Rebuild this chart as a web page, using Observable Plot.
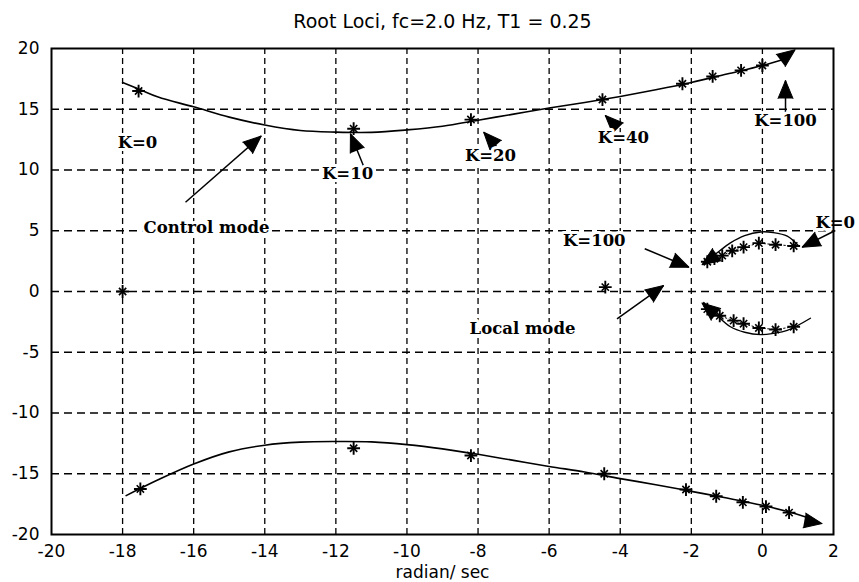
<!DOCTYPE html>
<html>
<head>
<meta charset="utf-8">
<script src="https://cdn.jsdelivr.net/npm/d3@7"></script>
<script src="https://cdn.jsdelivr.net/npm/@observablehq/plot@0.6"></script>
<style>
  body { margin: 0; background: #fff; }
  #chart svg { display: block; }
</style>
</head>
<body>
<div id="chart"></div>
<script>
// ---- tick values ----
const xTicks = [-20, -18, -16, -14, -12, -10, -8, -6, -4, -2, 0, 2];
const yTicks = [-20, -15, -10, -5, 0, 5, 10, 15, 20];

// ---- control mode loci (upper / lower), solid lines ----
const controlUpperLine = [[-18.0,17.2],[-17.5,16.6],[-17.0,16.0],[-16.0,15.2],[-15.0,14.35],[-14.0,13.7],[-13.0,13.25],[-12.0,13.12],[-11.0,13.1],[-10.0,13.3],[-9.0,13.6],[-8.0,14.1],[-7.0,14.6],[-6.0,15.1],[-5.0,15.55],[-4.0,16.05],[-3.0,16.6],[-2.0,17.2],[-1.0,17.9],[0.0,18.6],[0.7,19.2]];
const controlUpperStars = [[-17.55,16.5],[-11.5,13.4],[-8.2,14.15],[-4.5,15.8],[-2.25,17.1],[-1.4,17.7],[-0.6,18.2],[0.0,18.6]];
const controlLowerLine = [[-17.9,-16.8],[-17.0,-15.5],[-16.0,-14.2],[-15.0,-13.2],[-14.0,-12.65],[-13.0,-12.4],[-12.0,-12.35],[-11.0,-12.38],[-10.0,-12.6],[-9.0,-12.95],[-8.0,-13.4],[-7.0,-13.9],[-6.0,-14.4],[-5.0,-14.85],[-4.0,-15.4],[-3.0,-15.9],[-2.0,-16.45],[-1.0,-17.0],[0.0,-17.6],[1.0,-18.35],[1.4,-18.75]];
const controlLowerStars = [[-17.5,-16.25],[-11.5,-12.9],[-8.2,-13.5],[-4.45,-15.0],[-2.15,-16.3],[-1.3,-16.85],[-0.55,-17.35],[0.1,-17.7],[0.75,-18.2]];

// ---- isolated roots ----
const singleStars = [[-18.0,0.0],[-4.42,0.36]];

// ---- local mode loci ----
const localUpperLine = [[-1.65,2.3],[-1.2,3.35],[-0.9,4.0],[-0.5,4.6],[-0.05,4.9],[0.3,4.85],[0.7,4.55],[1.0,3.8]];
const localUpperStars = [[-1.55,2.45],[-1.35,2.7],[-1.13,2.95],[-0.85,3.35],[-0.53,3.65],[-0.1,3.98],[0.37,3.85],[0.88,3.75]];
const localLowerLine = [[-1.65,-0.9],[-1.3,-1.9],[-0.9,-2.9],[-0.5,-3.35],[-0.05,-3.55],[0.3,-3.45],[0.7,-3.2],[1.35,-2.2]];
const localLowerStars = [[-1.55,-1.45],[-1.2,-2.0],[-0.81,-2.4],[-0.53,-2.65],[-0.1,-3.0],[0.37,-3.13],[0.88,-2.9]];

// ---- annotation labels ----
const labelText = ["K=0", "Control mode", "K=10", "K=20", "K=40", "K=100", "K=100", "Local mode", "K=0"];
const labelX    = [-17.58, -15.64, -11.67, -7.65, -3.91, 0.65, -4.73, -6.75, 2.05];
const labelY    = [12.26, 5.27, 9.71, 11.19, 12.67, 14.07, 4.2, -3.05, 5.68];

// ---- annotation arrows (tail -> tip) ----
const arrowTailX = [-16.23, -11.17, -7.46, -4.09, 0.65, -3.31, -4.09, 2.05];
const arrowTailY = [7.35, 9.96, 11.88, 13.52, 14.76, 3.52, -2.25, 5.02];
const arrowTipX  = [-14.1, -11.59, -7.84, -4.42, 0.65, -2.07, -2.78, 1.12];
const arrowTipY  = [12.8, 12.98, 13.11, 14.49, 17.37, 2.0, 0.49, 3.65];

// ---- arrow heads drawn at loci ends (tip and direction taken from the locus) ----
const endHeadX   = [0.92, 1.68, -1.7, -1.7];
const endHeadY   = [19.9, -19.1, 2.2, -0.95];
const endFromX   = [0.6, 1.0, -1.3, -1.3];
const endFromY   = [19.2, -18.75, 3.0, -1.9];

const labels = labelText.map((t, i) => ({text: t, x: labelX[i], y: labelY[i]}));
const arrows = arrowTailX.map((x1, i) => ({x1, y1: arrowTailY[i], x2: arrowTipX[i], y2: arrowTipY[i]}));
const heads0 = arrows.map(a => ({fx: a.x1, fy: a.y1, x: a.x2, y: a.y2}))
  .concat(endHeadX.map((x, i) => ({fx: endFromX[i], fy: endFromY[i], x, y: endHeadY[i]})));

const P = d => d[0], Q = d => d[1];

function build(heads) {
  return Plot.plot({
    width: 859,
    height: 582,
    marginLeft: 51,
    marginRight: 26,
    marginTop: 48,
    marginBottom: 48,
    x: {domain: [-20, 2]},
    y: {domain: [-20, 20]},
    style: {fontFamily: "DejaVu Sans", background: "white", color: "black", overflow: "visible"},
    marks: [
      Plot.gridX(xTicks.filter(d => d > -20 && d < 2), {stroke: "black", strokeOpacity: 1, strokeWidth: 1.3, strokeDasharray: "6,4"}),
      Plot.gridY(yTicks.filter(d => d > -20 && d < 20), {stroke: "black", strokeOpacity: 1, strokeWidth: 1.3, strokeDasharray: "8,5"}),
      Plot.axisX(xTicks, {tickSize: 0, tickPadding: 10, fontSize: 17, tickFormat: d => String(d), label: null}),
      Plot.axisY(yTicks, {tickSize: 0, tickPadding: 12, fontSize: 17, tickFormat: d => String(d), label: null}),
      // loci
      Plot.line(controlUpperLine, {x: P, y: Q, curve: "catmull-rom", stroke: "black", strokeWidth: 1.6}),
      Plot.line(controlLowerLine, {x: P, y: Q, curve: "catmull-rom", stroke: "black", strokeWidth: 1.6}),
      Plot.line(localUpperLine, {x: P, y: Q, curve: "catmull-rom", stroke: "black", strokeWidth: 1.4}),
      Plot.line(localLowerLine, {x: P, y: Q, curve: "catmull-rom", stroke: "black", strokeWidth: 1.4}),
      Plot.line(localUpperStars, {x: P, y: Q, stroke: "black", strokeWidth: 1, strokeDasharray: "1.5,2.5"}),
      Plot.line(localLowerStars, {x: P, y: Q, stroke: "black", strokeWidth: 1, strokeDasharray: "1.5,2.5"}),
      // star markers
      ...[controlUpperStars, controlLowerStars, singleStars, localUpperStars, localLowerStars].flatMap(s => [
        Plot.dot(s, {x: P, y: Q, symbol: "plus", r: 4.2, stroke: "black", strokeWidth: 1.9}),
        Plot.dot(s, {x: P, y: Q, symbol: "times", r: 3.4, stroke: "black", strokeWidth: 1.6})
      ]),
      // annotation arrows
      Plot.link(arrows, {x1: "x1", y1: "y1", x2: "x2", y2: "y2", stroke: "black", strokeWidth: 1.5}),
      Plot.vector(heads, {x: "x", y: "y", rotate: "angle", length: 18, r: 7.5, shape: "spike", anchor: "end",
        fill: "black", fillOpacity: 1, stroke: "black", strokeWidth: 1}),
      // labels
      Plot.text(labels, {x: "x", y: "y", text: "text", fontFamily: "DejaVu Serif", fontSize: 16.5, fontWeight: "bold",
        fill: "black", stroke: "white", strokeWidth: 6, paintOrder: "stroke"}),
      // title and x label
      Plot.text(["Root Loci, fc=2.0 Hz, T1 = 0.25"], {frameAnchor: "top", lineAnchor: "middle", dy: -27, fontSize: 19, fill: "black"}),
      Plot.text(["radian/ sec"], {frameAnchor: "bottom", lineAnchor: "middle", dy: 38, fontSize: 17, fill: "black"}),
      Plot.frame({stroke: "black", strokeWidth: 2})
    ]
  });
}

// first pass: get scales to orient the arrow heads in screen space
const probe = build(heads0.map(h => ({...h, angle: 0})));
const sx = probe.scale("x"), sy = probe.scale("y");
const heads = heads0.map(h => {
  const dx = sx.apply(h.x) - sx.apply(h.fx);
  const dy = sy.apply(h.y) - sy.apply(h.fy);
  return {...h, angle: Math.atan2(dx, -dy) * 180 / Math.PI};
});
document.getElementById("chart").append(build(heads));
</script>
</body>
</html>
